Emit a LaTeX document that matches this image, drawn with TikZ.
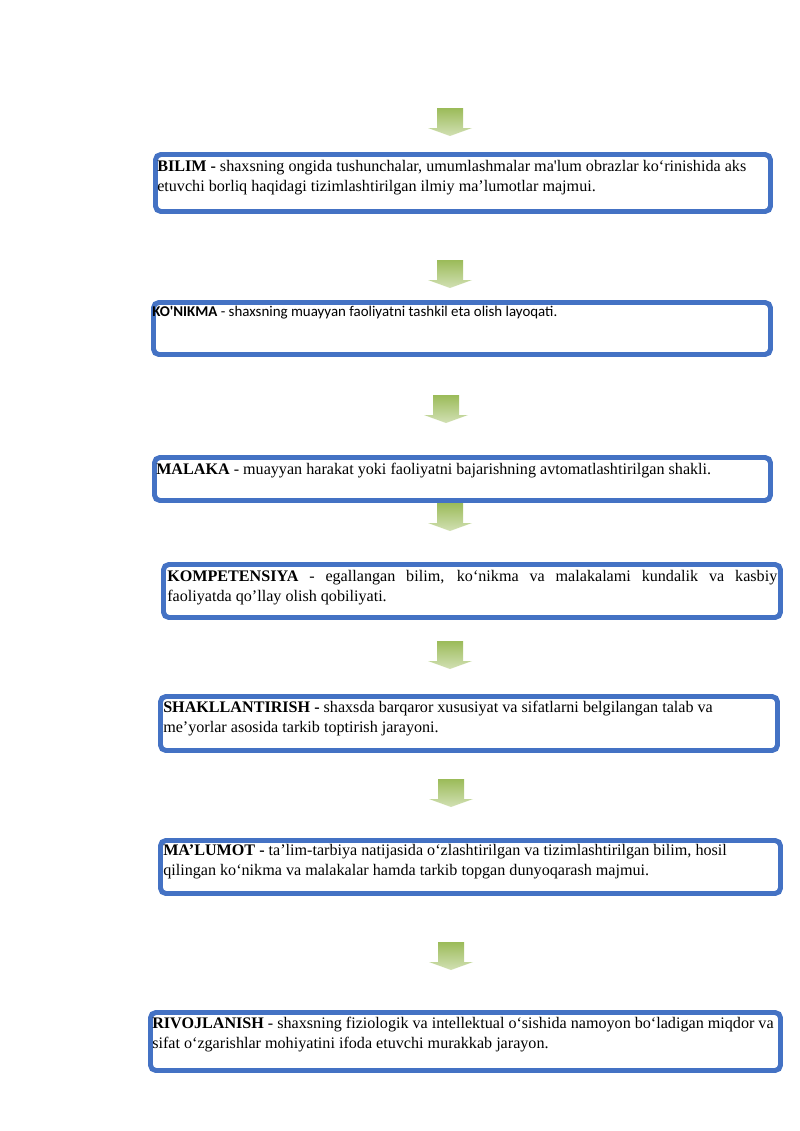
\documentclass[tikz,border=0pt]{standalone}
\usepackage{fontspec}
\setmainfont{Liberation Serif}
\newfontfamily\calibri{Carlito}
\definecolor{boxblue}{HTML}{4472C4}
\definecolor{arrowgreen}{HTML}{9BBB59}
\tikzset{
  box/.style={draw=boxblue, line width=3.7pt, rounded corners=4pt, fill=white, inner sep=0pt, anchor=north west},
  boxtext/.style={anchor=north west, inner sep=0pt, align=left, font=\fontsize{12}{14.6}\selectfont}
}
\begin{document}
\begin{tikzpicture}[x=0.7441pt,y=-0.7441pt]
\useasboundingbox (0,0) rectangle (800,1131);

%Pfeile
\foreach \x/\y in
{
450/108,
450/260,
446/395,
450/503,
450/641,
451/779,
451/942
}
{
	\shade[top color=arrowgreen, bottom color=arrowgreen!45] (\x-13,\y) -- (\x+13,\y) -- (\x+13,\y+20) -- (\x+22,\y+20) -- (\x,\y+28) -- (\x-22,\y+20) -- (\x-13,\y+20) -- cycle;
}

%Kaesten
\node[box, minimum width=615*0.7441pt, minimum height=57*0.7441pt] (bilim) at (153,152) {};
\node[box, minimum width=617*0.7441pt, minimum height=52*0.7441pt] (konikma) at (151,300) {};
\node[box, minimum width=616*0.7441pt, minimum height=43*0.7441pt] (malaka) at (152,455) {};
\node[box, minimum width=617*0.7441pt, minimum height=53*0.7441pt] (kompetensiya) at (161,562) {};
\node[box, minimum width=617*0.7441pt, minimum height=54*0.7441pt] (shakllantirish) at (158,694) {};
\node[box, minimum width=620*0.7441pt, minimum height=53*0.7441pt] (malumot) at (158,838) {};
\node[box, minimum width=630*0.7441pt, minimum height=58*0.7441pt] (rivojlanish) at (148,1010) {};

%Texte
\node[boxtext] (bilim-txt) at (157,160) {\textbf{BILIM -} shaxsning ongida tushunchalar, umumlashmalar ma\textquotesingle lum obrazlar ko‘rinishida aks\\etuvchi borliq haqidagi tizimlashtirilgan ilmiy ma’lumotlar majmui.};
\node[boxtext, font=\calibri\fontsize{11.1}{13.5}\selectfont] (konikma-txt) at (152,306) {\textbf{KO\textquotesingle NIKMA} - shaxsning muayyan faoliyatni tashkil eta olish layoqati.};
\node[boxtext] (malaka-txt) at (156,463) {\textbf{MALAKA} - muayyan harakat yoki faoliyatni bajarishning avtomatlashtirilgan shakli.};
\node[boxtext, align=justify, text width=610*0.7441pt] (kompetensiya-txt) at (167,570) {\textbf{KOMPETENSIYA} - egallangan bilim, ko‘nikma va malakalami kundalik va kasbiy\linebreak faoliyatda qo’llay olish qobiliyati.};
\node[boxtext] (shakllantirish-txt) at (163,701) {\textbf{SHAKLLANTIRISH -} shaxsda barqaror xususiyat va sifatlarni belgilangan talab va\\me’yorlar asosida tarkib toptirish jarayoni.};
\node[boxtext] (malumot-txt) at (163,844) {\textbf{MA’LUMOT -} ta’lim-tarbiya natijasida o‘zlashtirilgan va tizimlashtirilgan bilim, hosil\\qilingan ko‘nikma va malakalar hamda tarkib topgan dunyoqarash majmui.};
\node[boxtext] (rivojlanish-txt) at (152,1017) {\textbf{RIVOJLANISH} - shaxsning fiziologik va intellektual o‘sishida namoyon bo‘ladigan miqdor va\\sifat o‘zgarishlar mohiyatini ifoda etuvchi murakkab jarayon.};

\end{tikzpicture}
\end{document}
